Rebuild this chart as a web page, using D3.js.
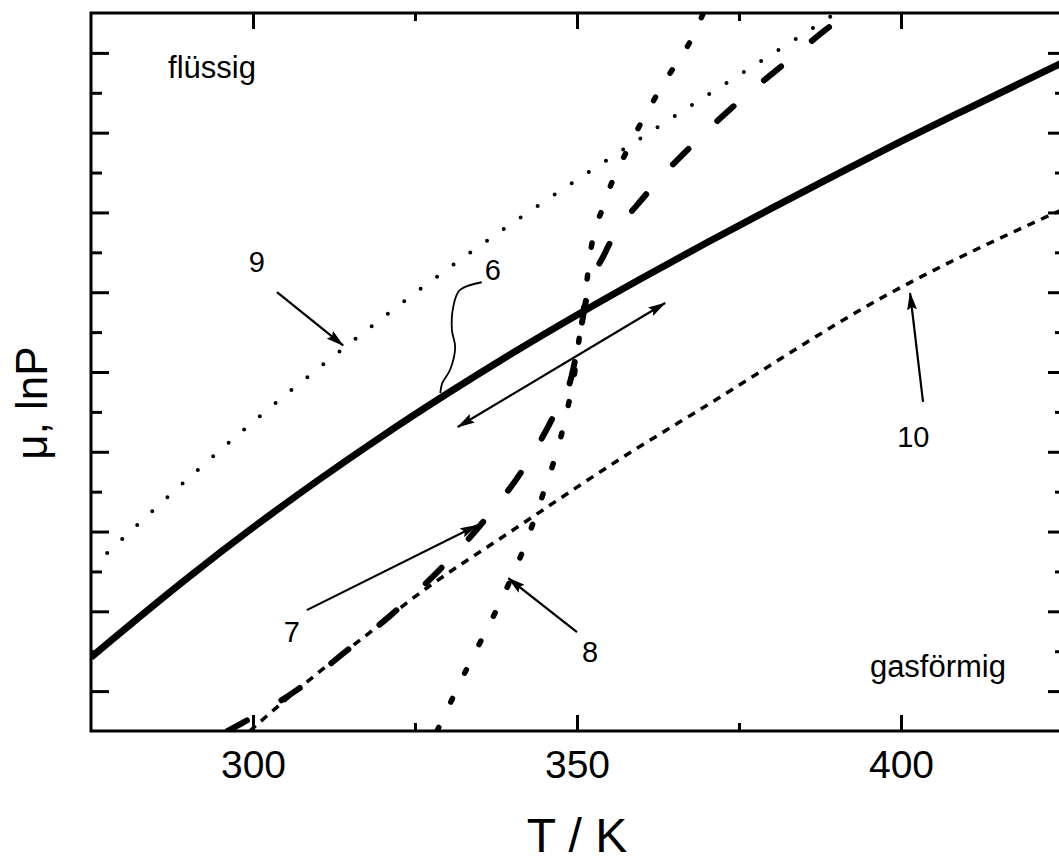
<!DOCTYPE html>
<html>
<head>
<meta charset="utf-8">
<script src="https://cdn.jsdelivr.net/npm/d3@7"></script>
<style>
  body { margin: 0; background: #fff; }
  text { font-family: "Liberation Sans", Arial, sans-serif; fill: #000; }
</style>
</head>
<body>
<div class="chart"></div>
<script>
var svgWidth = 1059;
var svgHeight = 863;

var margin = { top: 13, right: -4, bottom: 132, left: 91 };

var width = svgWidth - margin.left - margin.right;
var height = svgHeight - margin.top - margin.bottom;

// Tick values
var xTicksMajor = [300, 350, 400];
var xTicksMinor = [325, 375];
var yTicksMajor = [1, 3, 5, 7, 9, 11, 13, 15, 17];
var yTicksMinor = [2, 4, 6, 8, 10, 12, 14, 16];

// Curve 6: thick solid line
var line6T = [275, 290, 300, 310, 320, 330, 340, 350, 360, 370, 380, 390, 400, 410, 425];
var line6Y = [1.85, 3.85, 5.10, 6.28, 7.40, 8.46, 9.47, 10.43, 11.35, 12.24, 13.10, 13.95, 14.78, 15.58, 16.76];

// Curve 7: long dashes
var line7T = [296.1, 300, 306.8, 314.2, 321.1, 328.9, 335.5, 342.3, 346.3, 349.2, 350.3, 351.4, 354.3, 360.8, 367.3, 374.5, 382.1, 391.5, 392.1];
var line7Y = [0, 0.35, 1.03, 1.98, 2.88, 4.06, 5.24, 6.72, 7.87, 8.92, 9.80, 10.80, 11.98, 13.48, 14.61, 15.71, 16.74, 17.94, 18.0];

// Curve 8: big dots
var line8T = [328.4, 333.2, 337.7, 341.7, 344.8, 346.3, 348.6, 349.7, 350.3, 351.2, 351.9, 354.3, 358.2, 363.0, 368.4, 369.5];
var line8Y = [0, 1.63, 3.08, 4.54, 5.96, 6.69, 8.12, 9.05, 9.80, 10.80, 11.80, 13.26, 14.71, 16.14, 17.59, 18.0];

// Curve 9: small dots
var line9T = [277.5, 290, 300, 310, 320, 330, 340, 350, 360, 370, 380, 390];
var line9Y = [4.46, 6.33, 7.75, 9.08, 10.36, 11.58, 12.73, 13.82, 14.88, 15.93, 16.96, 18.0];

// Curve 10: short dashes
var line10T = [299.5, 302.3, 309.9, 318.1, 323.8, 340.7, 358.6, 369.0, 397.8, 425];
var line10Y = [0, 0.40, 1.44, 2.48, 3.22, 5.10, 7.02, 8.06, 10.93, 13.08];

// Annotations (in data units)
var phaseNames = ["flüssig", "gasförmig"];
var phaseT = [286.9, 395.2];
var phaseY = [16.37, 1.35];

var curveNames = ["9", "6", "7", "8", "10"];
var curveNameT = [300.6, 337.0, 306.0, 352.0, 401.9];
var curveNameY = [11.50, 11.30, 2.23, 1.73, 7.12];

var arrowFromT = [303.7, 308.3, 350.0, 403.4];
var arrowFromY = [11.0, 3.03, 2.48, 8.25];
var arrowToT = [313.9, 334.6, 339.4, 401.4];
var arrowToY = [9.67, 5.16, 3.83, 10.98];

var doubleArrowT = [331.6, 363.6];
var doubleArrowY = [7.62, 10.73];

var leader6T = [335.3, 331.9, 330.9, 330.7, 331.2, 330.4, 329.2, 328.9];
var leader6Y = [11.25, 11.05, 10.63, 10.05, 9.62, 9.05, 8.72, 8.47];

var svg = d3.select(".chart")
  .append("svg")
  .attr("width", svgWidth)
  .attr("height", svgHeight);

var chartGroup = svg.append("g")
  .attr("transform", `translate(${margin.left}, ${margin.top})`);

// Step 1: scales
var xScale = d3.scaleLinear().domain([275, 425]).range([0, width]);
var yScale = d3.scaleLinear().domain([0, 18]).range([height, 0]);

// Step 2: markers
var defs = svg.append("defs");
defs.append("marker")
  .attr("id", "head")
  .attr("markerUnits", "userSpaceOnUse")
  .attr("viewBox", "0 0 18 10")
  .attr("markerWidth", 18)
  .attr("markerHeight", 10)
  .attr("refX", 17)
  .attr("refY", 5)
  .attr("orient", "auto-start-reverse")
  .append("path")
  .attr("d", "M0,0 L18,5 L0,10 L3,5 Z")
  .attr("fill", "#000");

defs.append("clipPath")
  .attr("id", "plotclip")
  .append("rect")
  .attr("width", width)
  .attr("height", height);

// Step 3: axes (ticks only, frame drawn separately)
function tickAxis(axis, values, size, cls) {
  var g = chartGroup.append("g").attr("class", cls);
  g.call(axis.tickValues(values).tickSize(-size).tickSizeOuter(0).tickFormat(""));
  g.select(".domain").remove();
  g.selectAll(".tick line").attr("stroke", "#000").attr("stroke-width", 3);
  return g;
}

var bottomMajor = chartGroup.append("g")
  .attr("transform", `translate(0, ${height})`)
  .call(d3.axisBottom(xScale).tickValues(xTicksMajor).tickSize(-16).tickSizeOuter(0).tickPadding(19));
bottomMajor.select(".domain").remove();
bottomMajor.selectAll(".tick line").attr("stroke", "#000").attr("stroke-width", 3);
bottomMajor.selectAll("text")
  .attr("font-size", "39px")
  .attr("font-family", "Liberation Sans, Arial, sans-serif")
  .attr("fill", "#000");

tickAxis(d3.axisBottom(xScale), xTicksMinor, 8, "xminor").attr("transform", `translate(0, ${height})`);
tickAxis(d3.axisTop(xScale), xTicksMajor, 16, "topmajor");
tickAxis(d3.axisTop(xScale), xTicksMinor, 8, "topminor");
tickAxis(d3.axisLeft(yScale), yTicksMajor, 18, "leftmajor");
tickAxis(d3.axisLeft(yScale), yTicksMinor, 11, "leftminor");
tickAxis(d3.axisRight(yScale), yTicksMajor, 15, "rightmajor").attr("transform", `translate(${width}, 0)`);
tickAxis(d3.axisRight(yScale), yTicksMinor, 8, "rightminor").attr("transform", `translate(${width}, 0)`);

chartGroup.append("rect")
  .attr("width", width)
  .attr("height", height)
  .attr("fill", "none")
  .attr("stroke", "#000")
  .attr("stroke-width", 3);

// Step 4: curves
var smooth = d3.line()
  .x(d => xScale(d[0]))
  .y(d => yScale(d[1]))
  .curve(d3.curveMonotoneX);

var curves = chartGroup.append("g").attr("clip-path", "url(#plotclip)");

curves.append("path")
  .attr("d", smooth(d3.zip(line9T, line9Y)))
  .attr("fill", "none").attr("stroke", "#000")
  .attr("stroke-width", 4).attr("stroke-linecap", "round")
  .attr("stroke-dasharray", "0 20.5");

curves.append("path")
  .attr("d", smooth(d3.zip(line10T, line10Y)))
  .attr("fill", "none").attr("stroke", "#000")
  .attr("stroke-width", 3.5)
  .attr("stroke-dasharray", "8 7");

curves.append("path")
  .attr("d", smooth(d3.zip(line8T, line8Y)))
  .attr("fill", "none").attr("stroke", "#000")
  .attr("stroke-width", 5.5).attr("stroke-linecap", "round")
  .attr("stroke-dasharray", "4 28");

curves.append("path")
  .attr("d", smooth(d3.zip(line7T, line7Y)))
  .attr("fill", "none").attr("stroke", "#000")
  .attr("stroke-width", 6).attr("stroke-linecap", "round")
  .attr("stroke-dasharray", "22 40");

curves.append("path")
  .attr("d", smooth(d3.zip(line6T, line6Y)))
  .attr("fill", "none").attr("stroke", "#000")
  .attr("stroke-width", 7);

// Step 5: arrows and leader
d3.range(arrowFromT.length).forEach(function(i) {
  chartGroup.append("line")
    .attr("x1", xScale(arrowFromT[i]))
    .attr("y1", yScale(arrowFromY[i]))
    .attr("x2", xScale(arrowToT[i]))
    .attr("y2", yScale(arrowToY[i]))
    .attr("stroke", "#000")
    .attr("stroke-width", 2.2)
    .attr("marker-end", "url(#head)");
});

chartGroup.append("line")
  .attr("x1", xScale(doubleArrowT[0]))
  .attr("y1", yScale(doubleArrowY[0]))
  .attr("x2", xScale(doubleArrowT[1]))
  .attr("y2", yScale(doubleArrowY[1]))
  .attr("stroke", "#000")
  .attr("stroke-width", 2.2)
  .attr("marker-start", "url(#head)")
  .attr("marker-end", "url(#head)");

chartGroup.append("path")
  .attr("d", d3.line()
    .x(d => xScale(d[0]))
    .y(d => yScale(d[1]))
    .curve(d3.curveCatmullRom)(d3.zip(leader6T, leader6Y)))
  .attr("fill", "none")
  .attr("stroke", "#000")
  .attr("stroke-width", 1.8);

// Step 6: labels
chartGroup.selectAll(".phase")
  .data(phaseNames)
  .enter()
  .append("text")
  .attr("class", "phase")
  .attr("x", (d, i) => xScale(phaseT[i]))
  .attr("y", (d, i) => yScale(phaseY[i]))
  .attr("font-size", "31px")
  .text(d => d);

chartGroup.selectAll(".curvename")
  .data(curveNames)
  .enter()
  .append("text")
  .attr("class", "curvename")
  .attr("x", (d, i) => xScale(curveNameT[i]))
  .attr("y", (d, i) => yScale(curveNameY[i]))
  .attr("text-anchor", "middle")
  .attr("font-size", "29px")
  .text(d => d);

// Axis titles
chartGroup.append("text")
  .attr("transform", `translate(${xScale(350)}, ${height + 121})`)
  .attr("text-anchor", "middle")
  .attr("font-size", "48px")
  .text("T / K");

chartGroup.append("text")
  .attr("transform", `translate(${-margin.left + 47}, ${height / 2 + 31}) rotate(-90)`)
  .attr("text-anchor", "middle")
  .attr("font-size", "44px")
  .text("μ, lnP");
</script>
</body>
</html>
